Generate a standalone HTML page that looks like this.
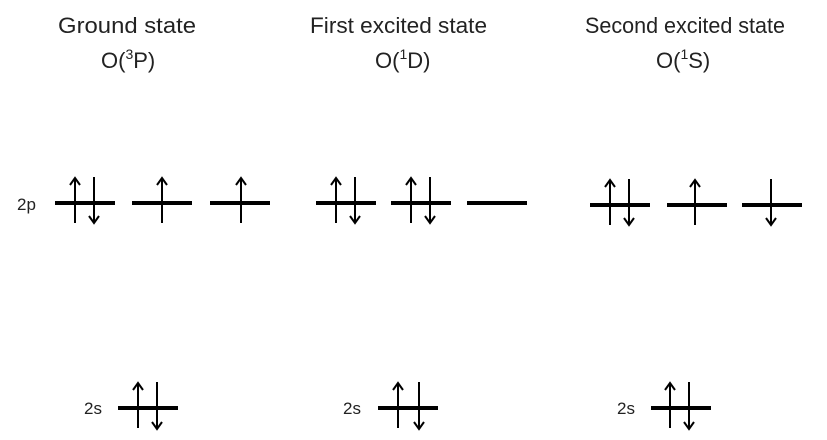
<!DOCTYPE html>
<html><head><style>html,body{margin:0;padding:0;background:#fff;}svg{display:block}</style></head>
<body>
<svg width="827" height="440" viewBox="0 0 827 440" xmlns="http://www.w3.org/2000/svg" font-family="Liberation Sans, sans-serif" fill="#222">
<defs>
<marker id="ah" viewBox="0 0 10 10" refX="5" refY="1" markerWidth="10" markerHeight="10" markerUnits="userSpaceOnUse" orient="auto">
</marker>
</defs>
<g font-size="22">
<text x="58" y="33" textLength="138" lengthAdjust="spacingAndGlyphs">Ground state</text>
<text x="101" y="68">O(<tspan font-size="14" dy="-9">3</tspan><tspan dy="9">P)</tspan></text>
<text x="310" y="33" textLength="177" lengthAdjust="spacingAndGlyphs">First excited state</text>
<text x="375" y="68">O(<tspan font-size="14" dy="-9">1</tspan><tspan dy="9">D)</tspan></text>
<text x="585" y="33" textLength="200" lengthAdjust="spacingAndGlyphs">Second excited state</text>
<text x="656" y="68">O(<tspan font-size="14" dy="-9">1</tspan><tspan dy="9">S)</tspan></text>
</g>
<g font-size="17">
<text x="17" y="210">2p</text>
<text x="84" y="414">2s</text>
<text x="343" y="414">2s</text>
<text x="617" y="414">2s</text>
</g>
<g stroke="#000" stroke-width="4">
<line x1="55" y1="203" x2="115" y2="203"/><line x1="132" y1="203" x2="192" y2="203"/><line x1="210" y1="203" x2="270" y2="203"/>
<line x1="316" y1="203" x2="376" y2="203"/><line x1="391" y1="203" x2="451" y2="203"/><line x1="467" y1="203" x2="527" y2="203"/>
<line x1="590" y1="205" x2="650" y2="205"/><line x1="667" y1="205" x2="727" y2="205"/><line x1="742" y1="205" x2="802" y2="205"/>
<line x1="118" y1="408" x2="178" y2="408"/><line x1="378" y1="408" x2="438" y2="408"/><line x1="651" y1="408" x2="711" y2="408"/>
</g>
<g stroke="#000" stroke-width="2" fill="none">
<!-- up arrows: x, top, bottom -->
<path d="M75 178V223M70 185L75 178L80 185"/>
<path d="M94 177V223M89 216L94 223L99 216"/>
<path d="M162 178V223M157 185L162 178L167 185"/>
<path d="M241 178V223M236 185L241 178L246 185"/>
<path d="M336 178V223M331 185L336 178L341 185"/>
<path d="M355 177V223M350 216L355 223L360 216"/>
<path d="M411 178V223M406 185L411 178L416 185"/>
<path d="M430 177V223M425 216L430 223L435 216"/>
<path d="M610 180V225M605 187L610 180L615 187"/>
<path d="M629 179V225M624 218L629 225L634 218"/>
<path d="M695 180V225M690 187L695 180L700 187"/>
<path d="M771 179V225M766 218L771 225L776 218"/>
<path d="M138 383V428M133 390L138 383L143 390"/>
<path d="M157 382V429M152 422L157 429L162 422"/>
<path d="M398 383V428M393 390L398 383L403 390"/>
<path d="M419 382V429M414 422L419 429L424 422"/>
<path d="M670 383V428M665 390L670 383L675 390"/>
<path d="M689 382V429M684 422L689 429L694 422"/>
</g>
</svg>
</body></html>
